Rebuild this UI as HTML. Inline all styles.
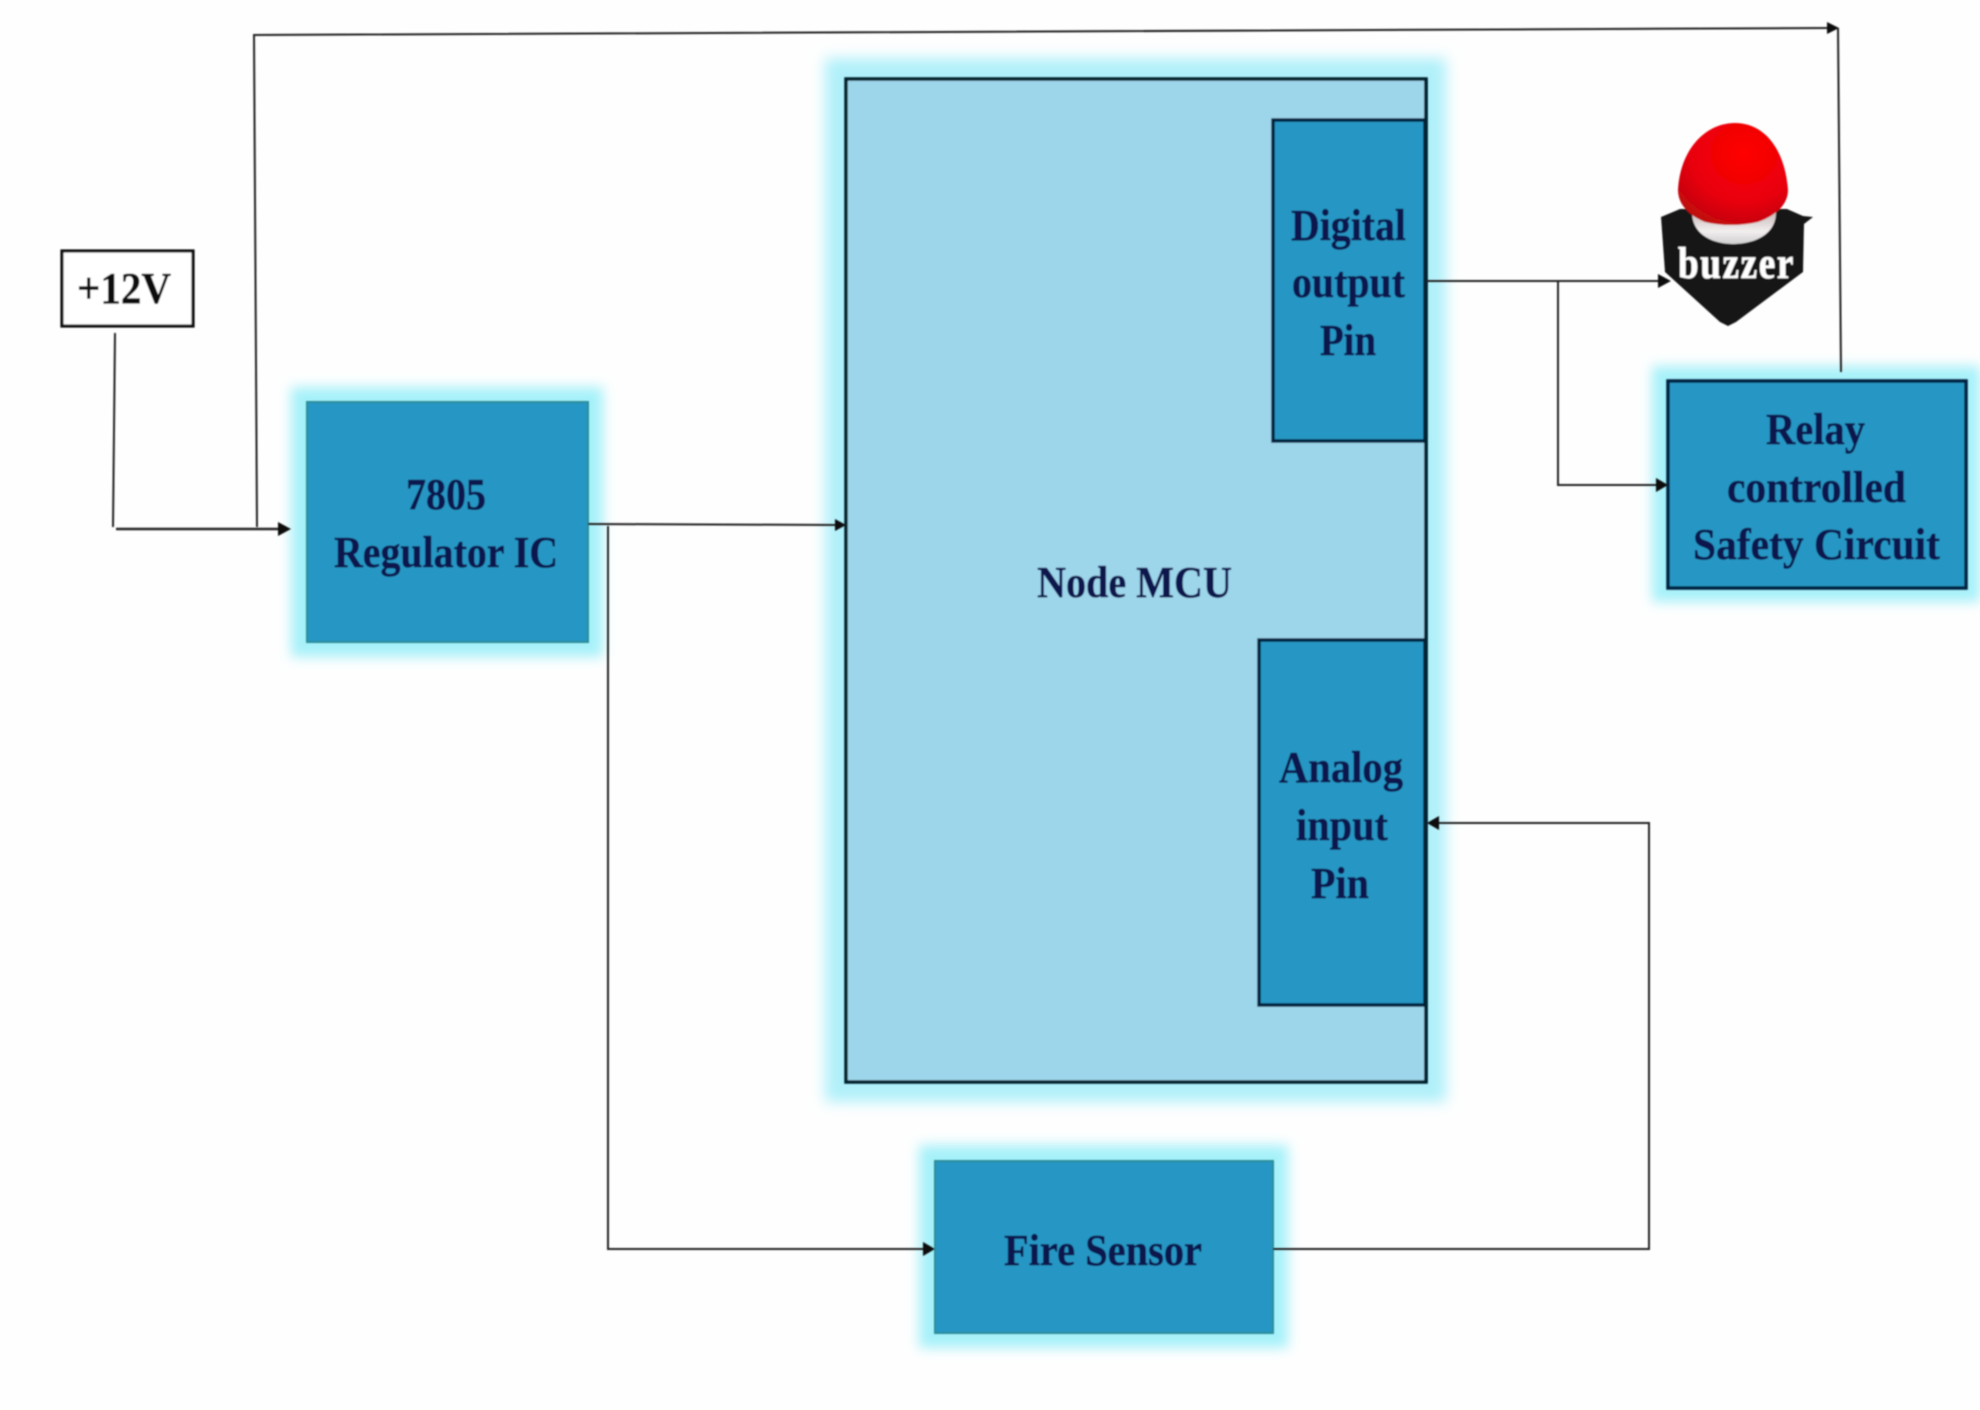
<!DOCTYPE html>
<html>
<head>
<meta charset="utf-8">
<style>
html,body{margin:0;padding:0;background:#fff;width:1980px;height:1410px;overflow:hidden}
svg{display:block}
text{font-family:"Liberation Serif",serif;font-weight:bold;font-size:44px;fill:#08164e;stroke:#08164e;stroke-width:0.5}
</style>
</head>
<body>
<svg width="1980" height="1410" viewBox="0 0 1980 1410" xmlns="http://www.w3.org/2000/svg">
<defs>
<filter id="g1" x="-30%" y="-30%" width="160%" height="160%"><feGaussianBlur stdDeviation="6"/></filter>
<filter id="g2" x="-10%" y="-10%" width="120%" height="120%"><feGaussianBlur stdDeviation="7"/></filter>
<filter id="soft" x="-2%" y="-2%" width="104%" height="104%"><feGaussianBlur stdDeviation="0.8"/></filter>
<radialGradient id="red" cx="0.6" cy="0.3" r="0.8">
<stop offset="0" stop-color="#ff0000"/><stop offset="0.6" stop-color="#e8000a"/><stop offset="1" stop-color="#b80a10"/>
</radialGradient>
<linearGradient id="white" x1="0" y1="0" x2="0" y2="1">
<stop offset="0" stop-color="#c8b8b8"/><stop offset="0.6" stop-color="#f2eeee"/><stop offset="1" stop-color="#cfcfcf"/>
</linearGradient>
</defs>
<rect width="1980" height="1410" fill="#fefefe"/>

<!-- glows -->
<rect x="291" y="387" width="312" height="270" fill="#a6f1f9" filter="url(#g1)"/>
<rect x="919" y="1145" width="369" height="203" fill="#a6f1f9" filter="url(#g1)"/>
<rect x="1652" y="366" width="328" height="236" fill="#a6f1f9" filter="url(#g1)"/>
<rect x="825" y="58" width="621" height="1044" fill="#b0f0fa" filter="url(#g2)"/>

<g filter="url(#soft)">
<!-- MCU -->
<rect x="846" y="79" width="580" height="1003" fill="#9dd6eb" stroke="#06202f" stroke-width="3.5"/>
<rect x="1273" y="120" width="152" height="321" fill="#2597c4" stroke="#06233f" stroke-width="3.5"/>
<rect x="1259" y="640" width="166" height="365" fill="#2597c4" stroke="#06233f" stroke-width="3.5"/>
<line x1="1426" y1="79" x2="1426" y2="1082" stroke="#06202f" stroke-width="3.5"/>

<!-- Regulator / Fire / Relay / +12V -->
<rect x="307" y="402" width="281" height="240" fill="#2597c4" stroke="#2f8d9a" stroke-width="2"/>
<rect x="935" y="1161" width="338" height="172" fill="#2597c4" stroke="#2f8d9a" stroke-width="2"/>
<rect x="1668" y="381" width="298" height="207" fill="#2597c4" stroke="#06233f" stroke-width="3.5"/>
<rect x="62" y="251" width="131" height="75" fill="#fff" stroke="#111" stroke-width="3.2"/>

<!-- connectors -->
<g fill="none" stroke="#222" stroke-width="2">
<polyline points="115,333 113,527"/>
<polyline points="116,529 280,529" stroke-width="2.6"/>
<polyline points="257,527 254,35 1830,28"/>
<polyline points="1838,28 1841,372"/>
<polyline points="588,524 838,525"/>
<polyline points="608,526 608,1249 926,1249"/>
<polyline points="1273,1249 1649,1249 1649,823 1436,823"/>
<polyline points="1427,281 1660,281"/>
<polyline points="1558,281 1558,485 1658,485"/>
</g>
<g fill="#111">
<polygon points="291,529 278,522 278,536"/>
<polygon points="846,525 835,519 835,531"/>
<polygon points="935,1249 923,1242 923,1256"/>
<polygon points="1427,823 1439,816 1439,830"/>
<polygon points="1671,281 1658,274 1658,288"/>
<polygon points="1668,485 1656,478 1656,492"/>
<polygon points="1839,28 1827,22 1827,34"/>
</g>

<!-- buzzer -->
<polygon points="1661,217 1680,209 1787,209 1803,216 1813,217 1804,224 1803,272 1736,322 1728,326 1720,322 1665,272" fill="#161616"/>
<path d="M1692 212 C1692 236 1715 244 1733 244 C1752 244 1776 236 1776 212 Z" fill="url(#white)"/>
<path d="M1678 190 C1680 150 1705 123 1735 123 C1765 123 1785 150 1788 190 C1788 205 1775 216 1758 222 C1740 226 1722 226 1705 222 C1690 216 1678 205 1678 190 Z" fill="url(#red)"/>

<!-- labels -->
<text x="77" y="303" textLength="94" lengthAdjust="spacingAndGlyphs" style="fill:#111;stroke:#111">+12V</text>
<text x="406" y="509" textLength="80" lengthAdjust="spacingAndGlyphs">7805</text>
<text x="334" y="567" textLength="224" lengthAdjust="spacingAndGlyphs">Regulator IC</text>
<text x="1291" y="240" textLength="115" lengthAdjust="spacingAndGlyphs">Digital</text>
<text x="1292" y="297" textLength="113" lengthAdjust="spacingAndGlyphs">output</text>
<text x="1320" y="355" textLength="56" lengthAdjust="spacingAndGlyphs">Pin</text>
<text x="1037" y="597" textLength="195" lengthAdjust="spacingAndGlyphs">Node MCU</text>
<text x="1279" y="782" textLength="124" lengthAdjust="spacingAndGlyphs">Analog</text>
<text x="1296" y="840" textLength="92" lengthAdjust="spacingAndGlyphs">input</text>
<text x="1311" y="898" textLength="58" lengthAdjust="spacingAndGlyphs">Pin</text>
<text x="1004" y="1265" textLength="198" lengthAdjust="spacingAndGlyphs">Fire Sensor</text>
<text x="1766" y="444" textLength="99" lengthAdjust="spacingAndGlyphs">Relay</text>
<text x="1727" y="502" textLength="179" lengthAdjust="spacingAndGlyphs">controlled</text>
<text x="1693" y="559" textLength="247" lengthAdjust="spacingAndGlyphs">Safety Circuit</text>
<text x="1678" y="278" textLength="117" lengthAdjust="spacingAndGlyphs" style="fill:#fff;stroke:#fff;letter-spacing:2px">buzzer</text>
</g>
</svg>
</body>
</html>
